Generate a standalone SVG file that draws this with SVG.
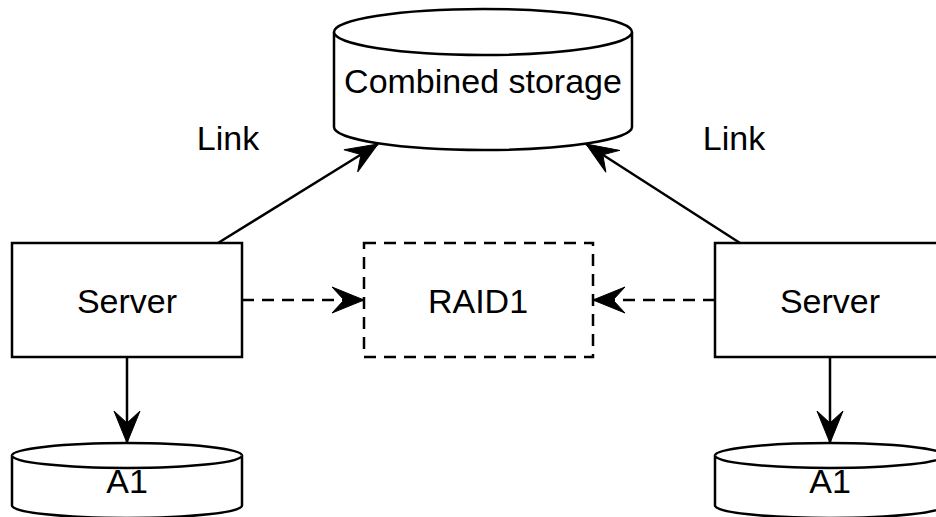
<svg xmlns="http://www.w3.org/2000/svg" width="936" height="517" viewBox="0 0 936 517">
  <style>
    .shape { fill: #ffffff; stroke: #000000; stroke-width: 2.5; }
    .dashed { stroke-dasharray: 12 8; }
    .edge { fill: none; stroke: #000000; stroke-width: 2.5; }
    .label { font-family: "Liberation Sans", Arial, sans-serif; font-size: 34px; fill: #000000; text-anchor: middle; }
  </style>
  <defs>
    <marker id="arrow" markerUnits="userSpaceOnUse" markerWidth="34" markerHeight="28" viewBox="0 0 34 28" refX="33" refY="14" orient="auto">
      <path d="M33,14 L1,1 L13,14 L1,27 Z" fill="#000000" stroke="#000000" stroke-width="1"/>
    </marker>
  </defs>

  <g id="edges">
    <line class="edge" x1="218" y1="243" x2="378" y2="144" marker-end="url(#arrow)"/>
    <line class="edge" x1="740" y1="243" x2="586" y2="144" marker-end="url(#arrow)"/>
    <line class="edge dashed" x1="242" y1="300" x2="364" y2="300" marker-end="url(#arrow)"/>
    <line class="edge dashed" x1="715" y1="300" x2="593" y2="300" marker-end="url(#arrow)"/>
    <line class="edge" x1="127" y1="357" x2="127" y2="443" marker-end="url(#arrow)"/>
    <line class="edge" x1="830" y1="357" x2="830" y2="443" marker-end="url(#arrow)"/>
  </g>

  <g id="link-left">
    <text class="label" x="228" y="150">Link</text>
  </g>
  <g id="link-right">
    <text class="label" x="734" y="150">Link</text>
  </g>

  <g id="combined-storage">
    <path class="shape" d="M334,32 A149,23 0 0 1 632,32 L632,127 A149,23 0 0 1 334,127 Z"/>
    <path class="shape" fill="none" d="M334,32 A149,23 0 0 0 632,32"/>
    <text class="label" x="483" y="93">Combined storage</text>
  </g>

  <g id="server-left">
    <rect class="shape" x="12" y="243" width="230" height="114"/>
    <text class="label" x="127" y="313">Server</text>
  </g>

  <g id="raid1">
    <rect class="shape dashed" x="364" y="243" width="229" height="114"/>
    <text class="label" x="478" y="313">RAID1</text>
  </g>

  <g id="server-right">
    <rect class="shape" x="715" y="243" width="230" height="114"/>
    <text class="label" x="830" y="313">Server</text>
  </g>

  <g id="disk-left">
    <path class="shape" d="M12,455.5 A115,12.5 0 0 1 242,455.5 L242,505.5 A115,12.5 0 0 1 12,505.5 Z"/>
    <path class="shape" d="M12,455.5 A115,12.5 0 0 0 242,455.5"/>
    <text class="label" x="127" y="493">A1</text>
  </g>

  <g id="disk-right">
    <path class="shape" d="M715,455.5 A115,12.5 0 0 1 945,455.5 L945,505.5 A115,12.5 0 0 1 715,505.5 Z"/>
    <path class="shape" d="M715,455.5 A115,12.5 0 0 0 945,455.5"/>
    <text class="label" x="830" y="493">A1</text>
  </g>
</svg>
